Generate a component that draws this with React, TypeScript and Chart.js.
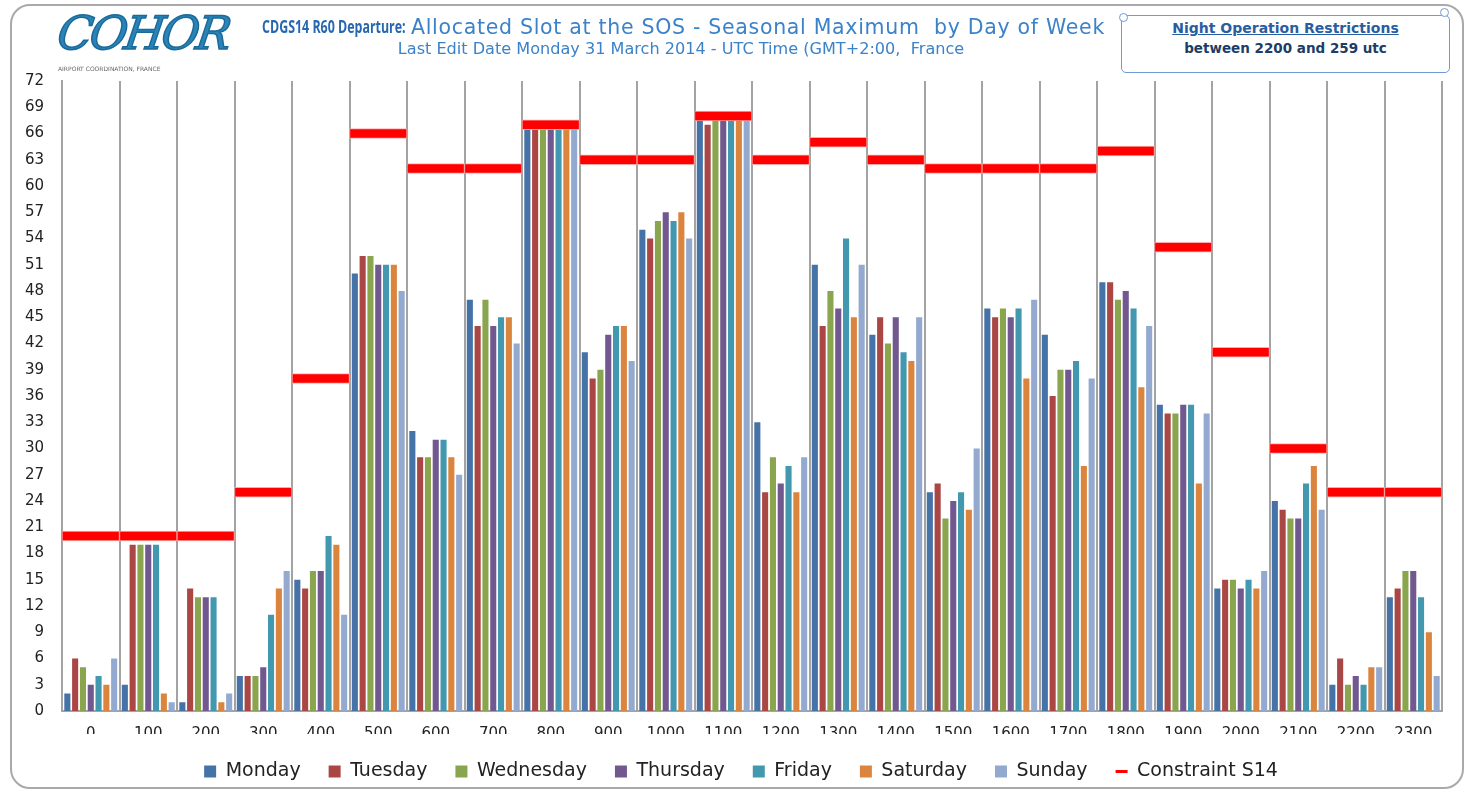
import React, { useEffect, useRef } from "react";
import { Chart, registerables } from "chart.js";

Chart.register(...registerables);

// ---------- data ----------
const hours = ["0", "100", "200", "300", "400", "500", "600", "700", "800", "900", "1000", "1100", "1200", "1300", "1400", "1500", "1600", "1700", "1800", "1900", "2000", "2100", "2200", "2300"];

const monday = [2, 3, 1, 4, 15, 50, 32, 47, 67, 41, 55, 68, 33, 51, 43, 25, 46, 43, 49, 35, 14, 24, 3, 13];
const tuesday = [6, 19, 14, 4, 14, 52, 29, 44, 67, 38, 54, 67, 25, 44, 45, 26, 45, 36, 49, 34, 15, 23, 6, 14];
const wednesday = [5, 19, 13, 4, 16, 52, 29, 47, 67, 39, 56, 68, 29, 48, 42, 22, 46, 39, 47, 34, 15, 22, 3, 16];
const thursday = [3, 19, 13, 5, 16, 51, 31, 44, 67, 43, 57, 68, 26, 46, 45, 24, 45, 39, 48, 35, 14, 22, 4, 16];
const friday = [4, 19, 13, 11, 20, 51, 31, 45, 67, 44, 56, 68, 28, 54, 41, 25, 46, 40, 46, 35, 15, 26, 3, 13];
const saturday = [3, 2, 1, 14, 19, 51, 29, 45, 67, 44, 57, 68, 25, 45, 40, 23, 38, 28, 37, 26, 14, 28, 5, 9];
const sunday = [6, 1, 2, 16, 11, 48, 27, 42, 67, 40, 54, 68, 29, 51, 45, 30, 47, 38, 44, 34, 16, 23, 5, 4];
const constraintS14 = [20, 20, 20, 25, 38, 66, 62, 62, 67, 63, 63, 68, 63, 65, 63, 62, 62, 62, 64, 53, 41, 30, 25, 25];

const dayNames = ["Monday", "Tuesday", "Wednesday", "Thursday", "Friday", "Saturday", "Sunday"];
const constraintName = "Constraint S14";
const yMin = 0;
const yMax = 72;
const yStep = 3;

// ---------- styles ----------
const dayColors = ["#4572A7", "#AA4643", "#89A54E", "#71588F", "#4198AF", "#DB843D", "#93A9CF"];
const constraintColor = "#FF0000";
const constraintHalf = 0.55; // half thickness of the constraint marker, in axis units
const gridColor = "#a3a3a3";
const FONT = "DejaVu Sans";
const legendShift = 20;

const legendShiftPlugin = {
  id: "legendShift",
  afterLayout(chart: any) {
    const lg = chart.legend;
    if (lg) {
      lg.left += legendShift;
      lg.right += legendShift;
    }
  },
};

export default function App() {
  const canvasRef = useRef<HTMLCanvasElement | null>(null);

  useEffect(() => {
    document.body.style.margin = "0";
    const canvas = canvasRef.current;
    if (!canvas) return;
    const dayData = [monday, tuesday, wednesday, thursday, friday, saturday, sunday];

    const datasets: any[] = dayData.map((values, i) => ({
      type: "bar",
      label: dayNames[i],
      data: values,
      backgroundColor: dayColors[i],
      borderWidth: 0,
      categoryPercentage: 0.95,
      barPercentage: 0.78,
      order: 1,
    }));
    datasets.push({
      type: "bar",
      label: constraintName,
      data: constraintS14.map((v) => [v - constraintHalf, v + constraintHalf]),
      backgroundColor: constraintColor,
      borderColor: "rgba(255,160,160,0.9)",
      borderWidth: 1,
      borderSkipped: false,
      categoryPercentage: 1,
      barPercentage: 1,
      grouped: false,
      order: 0,
    });

    const chart = new Chart(canvas, {
      type: "bar",
      data: { labels: hours, datasets },
      plugins: [legendShiftPlugin],
      options: {
        responsive: false,
        animation: false,
        devicePixelRatio: 1,
        layout: { padding: { left: 0, right: 33, top: 81, bottom: 0 } },
        plugins: {
          tooltip: { enabled: false },
          title: { display: false },
          legend: {
            display: true,
            position: "bottom",
            labels: {
              usePointStyle: true,
              pointStyleWidth: 12,
              boxHeight: 12,
              padding: 28,
              color: "#222",
              font: { family: FONT, size: 19 },
              generateLabels: (c: any) =>
                c.data.datasets.map((ds: any, i: number) => {
                  const isLine = i === dayNames.length;
                  const col = isLine ? constraintColor : dayColors[i];
                  return {
                    text: ds.label,
                    fillStyle: col,
                    strokeStyle: col,
                    lineWidth: isLine ? 3 : 0,
                    pointStyle: isLine ? "line" : "rect",
                    hidden: false,
                    datasetIndex: i,
                    fontColor: "#222",
                  };
                }),
            },
          },
        },
        scales: {
          x: {
            type: "category",
            offset: true,
            grid: { display: true, offset: true, color: gridColor, lineWidth: 2, drawTicks: false },
            border: { display: true, color: gridColor, width: 2 },
            ticks: { color: "#222", font: { family: FONT, size: 15 }, padding: 14, maxRotation: 0, autoSkip: false },
            afterFit: (s: any) => {
              s.height = 23;
            },
          },
          y: {
            min: yMin,
            max: yMax,
            ticks: { stepSize: yStep, color: "#222", font: { family: FONT, size: 15 }, padding: 18 },
            grid: { display: false, drawTicks: false },
            border: { display: true, color: gridColor, width: 2 },
            afterFit: (s: any) => {
              s.width = 62;
            },
          },
        },
      } as any,
    });
    return () => chart.destroy();
  }, []);

  return (
    <div style={{ position: "relative", width: 1475, height: 791, background: "#fff", overflow: "hidden", fontFamily: FONT }}>
      <div
        style={{
          position: "absolute",
          left: 10,
          top: 4,
          width: 1454,
          height: 785,
          border: "2px solid #a9a9a9",
          borderRadius: 20,
          boxSizing: "border-box",
        }}
      />
      <canvas ref={canvasRef} width={1475} height={791} style={{ position: "absolute", left: 0, top: 0, width: 1475, height: 791 }} />

      {/* logo */}
      <div
        style={{
          position: "absolute",
          left: 58,
          top: 6,
          fontFamily: "DejaVu Serif",
          fontStyle: "italic",
          fontWeight: 400,
          fontSize: 46,
          letterSpacing: -3,
          color: "#2a84b8",
          WebkitTextStroke: "1.5px #1a6a9a",
          lineHeight: "54px",
          transform: "skewX(-8deg)",
          whiteSpace: "nowrap",
        }}
      >
        COHOR
      </div>
      <div style={{ position: "absolute", left: 58, top: 65, fontSize: 6, color: "#666", whiteSpace: "nowrap", lineHeight: "8px" }}>
        AIRPORT COORDINATION, FRANCE
      </div>

      {/* title */}
      <div
        style={{
          position: "absolute",
          right: 1475 - 406,
          top: 15,
          whiteSpace: "nowrap",
          lineHeight: "24px",
          fontFamily: "Open Sans",
          fontWeight: 700,
          fontSize: 17,
          color: "#2767b0",
          transform: "scaleX(0.73)",
          transformOrigin: "right center",
        }}
      >
        CDGS14 R60 Departure:
      </div>
      <div
        style={{
          position: "absolute",
          left: 411,
          top: 15,
          whiteSpace: "pre",
          lineHeight: "24px",
          fontFamily: FONT,
          fontSize: 20.5,
          letterSpacing: 0.7,
          color: "#3b82c9",
        }}
      >
        {"Allocated Slot at the SOS - Seasonal Maximum  by Day of Week"}
      </div>
      <div
        style={{
          position: "absolute",
          left: 0,
          top: 40,
          width: 1362,
          textAlign: "center",
          whiteSpace: "pre",
          fontSize: 16.1,
          color: "#3b82c9",
          lineHeight: "18px",
        }}
      >
        {"Last Edit Date Monday 31 March 2014 - UTC Time (GMT+2:00,  France"}
      </div>

      {/* note box */}
      <div
        style={{
          position: "absolute",
          left: 1121,
          top: 15,
          width: 329,
          height: 58,
          border: "1.5px solid #6e9bd5",
          borderRadius: 5,
          background: "#fff",
          boxSizing: "border-box",
          textAlign: "center",
        }}
      >
        <div style={{ marginTop: 2, fontWeight: 700, fontSize: 14, color: "#2a5d9f", textDecoration: "underline", lineHeight: "20px" }}>
          Night Operation Restrictions
        </div>
        <div style={{ fontWeight: 700, fontSize: 13.5, color: "#1d3d66", lineHeight: "20px" }}>between 2200 and 259 utc</div>
      </div>
      <div style={{ position: "absolute", left: 1119, top: 13, width: 7, height: 7, border: "1.5px solid #6e9bd5", borderRadius: "50%", background: "#fff" }} />
      <div style={{ position: "absolute", left: 1440, top: 8, width: 7, height: 7, border: "1.5px solid #6e9bd5", borderRadius: "50%", background: "#fff" }} />
    </div>
  );
}
